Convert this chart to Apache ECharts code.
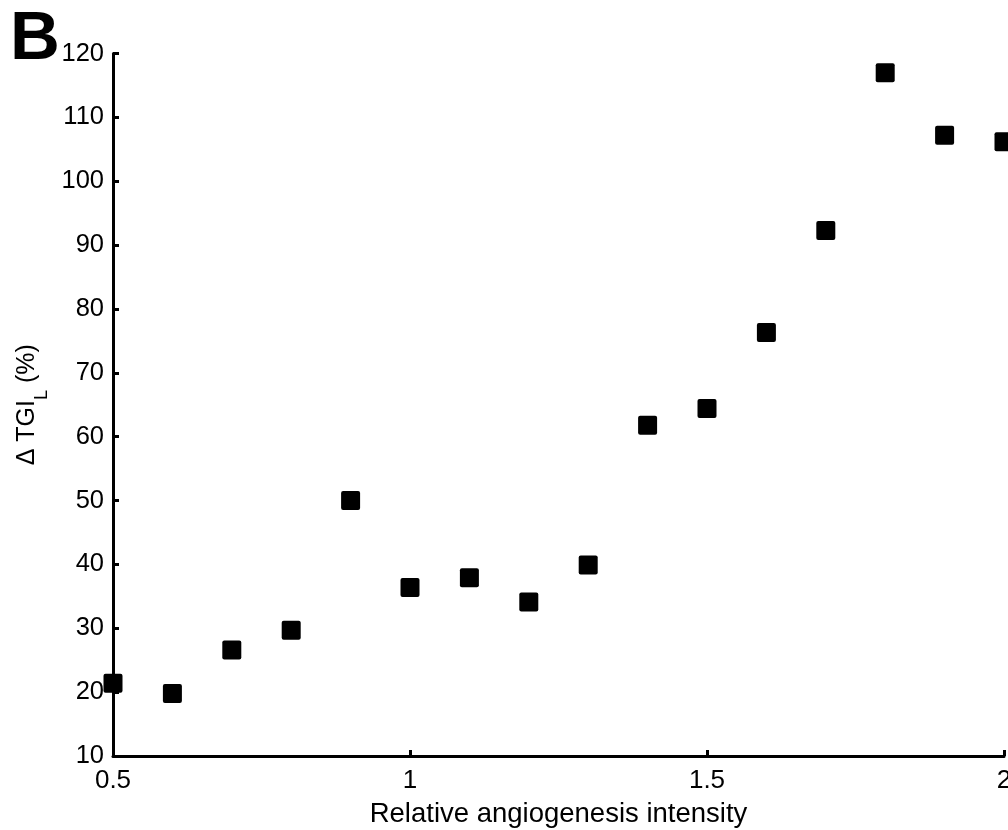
<!DOCTYPE html>
<html>
<head>
<meta charset="utf-8">
<script src="https://cdn.jsdelivr.net/npm/echarts@6/dist/echarts.min.js"></script>
<style>html,body{margin:0;padding:0;background:#fff}#c{width:1008px;height:830px}</style>
</head>
<body>
<div id="c"></div>
<script>
var xValues = [0.5, 0.6, 0.7, 0.8, 0.9, 1.0, 1.1, 1.2, 1.3, 1.4, 1.5, 1.6, 1.7, 1.8, 1.9, 2.0];
var yValues = [21.4, 19.8, 26.6, 29.7, 50.0, 36.4, 37.9, 34.1, 39.9, 61.8, 64.4, 76.3, 92.3, 117.0, 107.2, 106.2];
var xTicks = [0.5, 1, 1.5, 2];
var yTicks = [10, 20, 30, 40, 50, 60, 70, 80, 90, 100, 110, 120];
var xTitle = 'Relative angiogenesis intensity';
var panelLabel = 'B';

var points = xValues.map(function (x, i) { return [x, yValues[i]]; });
var FONT = '"Liberation Sans", Arial, sans-serif';
var chart = echarts.init(document.getElementById('c'), null, {renderer: 'canvas'});
chart.setOption({
  animation: false,
  backgroundColor: '#fff',
  grid: {left: 113, right: 4, top: 53.5, bottom: 74, containLabel: false, outerBoundsMode: 'none'},
  xAxis: {
    type: 'value', min: xTicks[0], max: xTicks[xTicks.length - 1], interval: 0.5,
    name: xTitle, nameLocation: 'middle', nameGap: 44,
    nameTextStyle: {color: '#000', fontSize: 27.5, fontFamily: FONT},
    axisLine: {show: true, lineStyle: {color: '#000', width: 3}},
    axisTick: {show: true, inside: true, length: 6, lineStyle: {color: '#000', width: 3}},
    axisLabel: {color: '#000', fontSize: 26, fontFamily: FONT, margin: 12,
      formatter: function (v) { return String(v); }},
    splitLine: {show: false}
  },
  yAxis: {
    type: 'value', min: yTicks[0], max: yTicks[yTicks.length - 1], interval: 10,
    name: '{a|Δ TGI}{s|L}{a| (%)}', nameLocation: 'middle', nameRotate: 90, nameGap: 62,
    nameMoveOverlap: false,
    nameTextStyle: {
      color: '#000', fontFamily: FONT,
      rich: {
        a: {fontSize: 25, fontFamily: FONT, color: '#000', lineHeight: 25, verticalAlign: 'top'},
        s: {fontSize: 18, fontFamily: FONT, color: '#000', lineHeight: 36, verticalAlign: 'bottom'}
      }
    },
    axisLine: {show: true, lineStyle: {color: '#000', width: 3}},
    axisTick: {show: true, inside: true, length: 6, lineStyle: {color: '#000', width: 3}},
    axisLabel: {color: '#000', fontSize: 25.5, fontFamily: FONT, margin: 9},
    splitLine: {show: false}
  },
  graphic: [{
    type: 'text', left: 10, top: 5,
    style: {text: panelLabel, fontSize: 69, fontWeight: 'bold', fontFamily: FONT, fill: '#000'}
  }],
  series: [{
    type: 'scatter',
    data: points,
    symbol: 'path://M2,0 L17,0 Q19,0 19,2 L19,17 Q19,19 17,19 L2,19 Q0,19 0,17 L0,2 Q0,0 2,0 Z',
    symbolSize: 19,
    itemStyle: {color: '#000', opacity: 1},
    clip: false
  }]
});
</script>
</body>
</html>
